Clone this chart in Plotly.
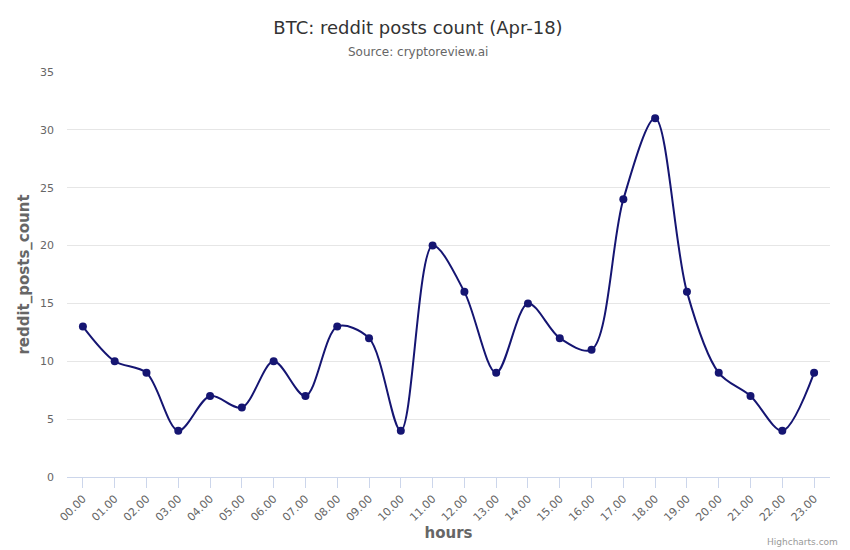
import plotly.graph_objects as go

hours = ["00.00", "01.00", "02.00", "03.00", "04.00", "05.00", "06.00", "07.00",
         "08.00", "09.00", "10.00", "11.00", "12.00", "13.00", "14.00", "15.00",
         "16.00", "17.00", "18.00", "19.00", "20.00", "21.00", "22.00", "23.00"]
posts = [13, 10, 9, 4, 7, 6, 10, 7, 13, 12, 4, 20, 16, 9, 15, 12, 11, 24, 31, 16, 9, 7, 4, 9]
y_ticks = [0, 5, 10, 15, 20, 25, 30, 35]

line_color = "#151572"
font_family = "DejaVu Sans, sans-serif"

fig = go.Figure()
fig.add_trace(go.Scatter(
    x=hours, y=posts, mode="lines+markers",
    line=dict(color=line_color, width=2, shape="spline", smoothing=0.9),
    marker=dict(color=line_color, size=8),
    showlegend=False,
))

plot_w = 850 - 67 - 20
plot_h = 550 - 72 - 73

fig.update_layout(
    width=850, height=550,
    paper_bgcolor="white", plot_bgcolor="white",
    margin=dict(l=67, r=20, t=72, b=73),
    font=dict(family=font_family, color="#666666"),
    title=dict(text="BTC: reddit posts count (Apr-18)", x=418 / 850, xanchor="center",
               y=1 - 28 / 550, yanchor="middle",
               font=dict(size=18, color="#333333", family=font_family)),
    xaxis=dict(
        type="category", range=[-0.5, 23.5], automargin=False,
        tickangle=-45, tickfont=dict(size=11, color="#666666"),
        showgrid=False, showline=True, linecolor="#ccd6eb", linewidth=1,
        ticks="outside", tickcolor="#ccd6eb", ticklen=10,
        title=dict(text="<b>hours</b>", font=dict(size=15, color="#666666"), standoff=3),
    ),
    yaxis=dict(
        range=[0, 35], tickvals=y_ticks, ticktext=[str(v) for v in y_ticks],
        tickfont=dict(size=11, color="#666666"), automargin=False,
        showgrid=True, gridcolor="#e6e6e6", zeroline=False, showline=False,
        ticks="", ticklabelstandoff=12,
        title=dict(text="<b>reddit_posts_count</b>", font=dict(size=15, color="#666666"), standoff=6),
    ),
    annotations=[
        dict(text="Source: cryptoreview.ai", xref="paper", yref="paper",
             x=(418 - 67) / plot_w, xanchor="center",
             y=1 + (72 - 52) / plot_h, yanchor="middle", showarrow=False,
             font=dict(size=12, color="#666666")),
        dict(text="Highcharts.com", xref="paper", yref="paper",
             x=(840 - 67) / plot_w, xanchor="right",
             y=(477 - 542) / plot_h, yanchor="middle", showarrow=False,
             font=dict(size=9, color="#999999")),
    ],
)

fig.write_html("out.html")
